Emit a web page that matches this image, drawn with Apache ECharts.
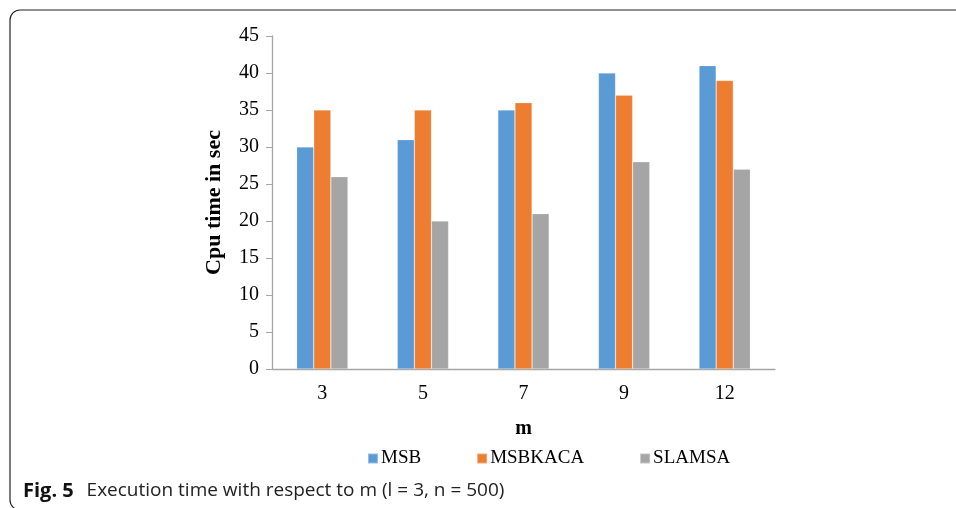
<!DOCTYPE html>
<html>
<head>
<meta charset="utf-8">
<script src="https://cdn.jsdelivr.net/npm/echarts@6/dist/echarts.min.js"></script>
<style>
  html, body { margin: 0; padding: 0; background: #fff; }
  #chart { width: 956px; height: 508px; }
</style>
</head>
<body>
<div id="chart"></div>
<script>
// Values of m on the horizontal axis
const categories = ['3', '5', '7', '9', '12'];
// CPU time (seconds) for each algorithm
const msb = [30, 31, 35, 40, 41];
const msbkaca = [35, 35, 36, 37, 39];
const slamsa = [26, 20, 21, 28, 27];
const seriesNames = ['MSB', 'MSBKACA', 'SLAMSA'];
const seriesColors = ['#5B9BD5', '#ED7D31', '#A5A5A5'];

const serif = '"Liberation Serif", "Times New Roman", serif';
const sans = '"Open Sans", "Noto Sans", sans-serif';

const chart = echarts.init(document.getElementById('chart'), null, { renderer: 'canvas' });

const seriesData = [msb, msbkaca, slamsa];

chart.setOption({
  animation: false,
  backgroundColor: '#fff',
  grid: { left: 272, top: 36, right: 181, bottom: 139, containLabel: false },
  legend: {
    data: seriesNames,
    left: 362,
    top: 444,
    icon: 'rect',
    itemWidth: 10,
    itemHeight: 10,
    itemGap: 55,
    textStyle: { fontFamily: serif, fontSize: 19, color: '#000', padding: [0, 0, 0, -2] },
    selectedMode: false
  },
  xAxis: {
    type: 'category',
    data: categories,
    name: 'm',
    nameLocation: 'middle',
    nameGap: 50,
    nameTextStyle: { fontFamily: serif, fontSize: 20, fontWeight: 'bold', color: '#000' },
    axisLine: { lineStyle: { color: '#A6A6A6', width: 1.3 } },
    axisTick: { show: false },
    axisLabel: { fontFamily: serif, fontSize: 20, color: '#000', margin: 15 },
    splitLine: { show: false }
  },
  yAxis: {
    type: 'value',
    min: 0,
    max: 45,
    interval: 5,
    name: 'Cpu time in sec',
    nameLocation: 'middle',
    nameGap: 47,
    nameTextStyle: { fontFamily: serif, fontSize: 22, fontWeight: 'bold', color: '#000' },
    axisLine: { show: true, lineStyle: { color: '#A6A6A6', width: 1.3 } },
    axisTick: { show: true, length: 6, lineStyle: { color: '#A6A6A6' } },
    axisLabel: { fontFamily: serif, fontSize: 20, color: '#000', margin: 13 },
    splitLine: { show: false }
  },
  series: seriesNames.map((name, i) => ({
    name: name,
    type: 'bar',
    data: seriesData[i],
    barGap: '0%',
    barCategoryGap: '49%',
    itemStyle: { color: seriesColors[i], borderColor: 'rgba(255,255,255,0.35)', borderWidth: 0.6 }
  })),
  graphic: [
    {
      type: 'rect',
      shape: { x: 10, y: 10, width: 1000, height: 500, r: 10 },
      style: { fill: 'none', stroke: '#222', lineWidth: 1.2 },
      silent: true
    },
    {
      type: 'text',
      left: 23,
      top: 481,
      style: {
        text: '{b|Fig. 5}  Execution time with respect to m (l = 3, n = 500)',
        fontFamily: sans,
        fontSize: 19,
        fill: '#222',
        rich: {
          b: { fontFamily: sans, fontSize: 20, fontWeight: 'bold', fill: '#111', padding: [0, 3, 0, 0] }
        }
      }
    }
  ]
});
</script>
</body>
</html>
